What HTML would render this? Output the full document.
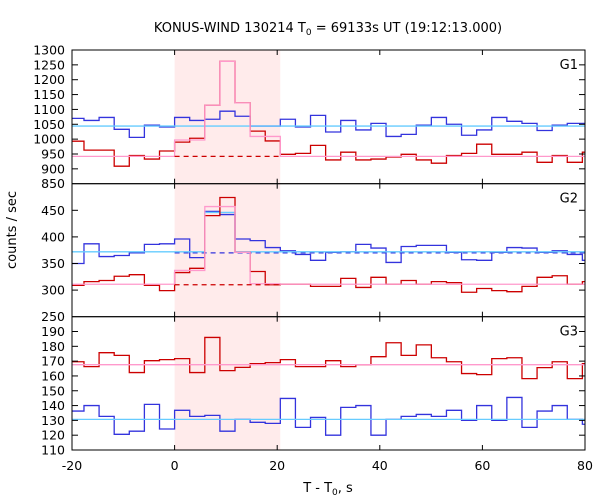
<!DOCTYPE html>
<html><head><meta charset="utf-8">
<style>
html,body{margin:0;padding:0;background:#fff;}
svg{display:block;font-family:"DejaVu Sans","Liberation Sans",sans-serif;}
</style></head>
<body>
<svg id="chart" width="600" height="500" viewBox="0 0 600 500" xmlns="http://www.w3.org/2000/svg">
<rect x="0" y="0" width="600" height="500" fill="#fff"/>
<text x="328" y="32" text-anchor="middle" font-size="13">KONUS-WIND 130214 T<tspan font-size="9" dy="3">0</tspan><tspan dy="-3"> = 69133s UT (19:12:13.000)</tspan></text>
<text x="328" y="492" text-anchor="middle" font-size="13">T - T<tspan font-size="9" dy="3">0</tspan><tspan dy="-3">, s</tspan></text>
<text transform="translate(16,230) rotate(-90)" text-anchor="middle" font-size="13">counts / sec</text>
<g id="layer"></g>
</svg>
<script>
const binWidth = 2.944;
const xTicks = [-20, 0, 20, 40, 60, 80];
const shadeStart = 0, shadeEnd = 20.6;

const g1Blue = [1070,1063,1073,1033,1006,1047,1041,1073,1063,1067,1094,1077,1044,1044,1067,1041,1080,1024,1063,1031,1053,1009,1016,1047,1073,1050,1013,1031,1073,1060,1053,1029,1047,1053,1053];
const g1Red = [993,963,963,909,945,933,960,990,1003,1114,1262,1122,1027,994,949,952,979,930,956,930,933,940,949,930,919,945,952,983,949,949,956,922,945,922,956];
const g1Pink = [942,942,942,942,942,942,942,997,997,1114,1262,1122,1009,1009,942,942,942,942,942,942,942,942,942,942,942,942,942,942,942,942,942,942,942,942,942];
const g1Cyan = 1044, g1RedBkg = 942;

const g2Blue = [350,387,363,365,370,386,387,396,361,448,442,396,393,380,374,367,356,371,372,386,379,352,382,384,384,371,357,356,371,380,379,371,374,367,356];
const g2Red = [309,316,318,326,329,309,299,333,341,440,474,371,335,310,311,311,307,307,322,305,324,311,318,311,316,314,296,303,299,297,307,324,327,311,316];
const g2Pink = [311,311,311,311,311,311,311,337,337,457,457,371,312,312,311,311,311,311,311,311,311,311,311,311,311,311,311,311,311,311,311,311,311,311,311];
const g2Cyan = [372,372,372,372,372,372,372,372,372,446,446,372,372,372,372,372,372,372,372,372,372,372,372,372,372,372,372,372,372,372,372,372,372,372,372];
const g2RedBkg = 310, g2BlueBkg = 370;

const g3Blue = [136.3,140,132.7,120.6,122.7,140.8,124.2,136.8,132.7,133.4,122.7,130.7,128.7,128,144.8,125.3,132,120,138.8,140,120,130.7,132.7,134,132.7,136.8,130,140,130,145.5,125.3,136.3,140,130.7,127.4];
const g3Red = [169.6,166.3,175.7,173.9,162.3,170.3,171,171.7,162.3,186,163.6,165.8,168.3,169,171,166.3,166.3,170.3,166.3,167.6,173,182.4,173.9,181,172.3,169.6,161.6,160.9,171.7,172.3,158.2,165.6,169.6,158.2,168.3];
const g3Pink = 167.6, g3Cyan = 130.7;

const g1Ticks = [1300,1250,1200,1150,1100,1050,1000,950,900,850];
const g2Ticks = [450,400,350,300,250];
const g3Ticks = [190,180,170,160,150,140,130,120,110];

const XL = 72, XR = 585;
function X(t){ return XL + (t + 20) / 100 * (XR - XL); }
const panels = [
  {name:'g1', top:50, bot:183.7, min:850, max:1300, label:'G1'},
  {name:'g2', top:183.7, bot:316.7, min:250, max:500, label:'G2'},
  {name:'g3', top:316.7, bot:450, min:110, max:200, label:'G3'}
];
function Yf(p){ return v => p.bot - (v - p.min) / (p.max - p.min) * (p.bot - p.top); }

const edges = [-20];
for (let k = -6; k <= 27; k++) edges.push(k * binWidth);
edges.push(80);

const NS = 'http://www.w3.org/2000/svg';
const layer = document.getElementById('layer');
function mk(tag, attrs, parent){
  const el = document.createElementNS(NS, tag);
  for (const k in attrs) el.setAttribute(k, attrs[k]);
  (parent || layer).appendChild(el);
  return el;
}
function full(v){ return Array.isArray(v) ? v : edges.slice(0, -1).map(() => v); }
function step(vals, Y, color, name, w){
  vals = full(vals);
  let d = '';
  for (let i = 0; i < vals.length; i++){
    const y = Y(vals[i]).toFixed(2);
    d += (i === 0 ? 'M' : 'L') + X(edges[i]).toFixed(2) + ',' + y + 'L' + X(edges[i+1]).toFixed(2) + ',' + y;
  }
  const el = mk('path', {d:d, fill:'none', stroke:color, 'stroke-width':w || 1.3});
  
  
}
function dashed(v, t0, t1, Y, color, name){
  const el = mk('line', {x1:X(t0), x2:X(t1), y1:Y(v), y2:Y(v), stroke:color, 'stroke-width':1.3, 'stroke-dasharray':'5,4'});
  
  
}

// shaded interval
const sh = mk('rect', {x:X(shadeStart), y:50, width:X(shadeEnd)-X(shadeStart), height:400, fill:'#ffebeb'});



const BLUE = '#3333dd', RED = '#cc0000', PINK = '#ff99cc', CYAN = '#66ccff';

const Y1 = Yf(panels[0]), Y2 = Yf(panels[1]), Y3 = Yf(panels[2]);
step(g1Blue, Y1, BLUE, 'g1-blue-series');
step(g1Cyan, Y1, CYAN, 'g1-cyan-model');
step(g1Red, Y1, RED, 'g1-red-series');
step(g1Pink, Y1, PINK, 'g1-pink-model');
dashed(g1RedBkg, 0, shadeEnd, Y1, RED, 'g1-red-background');

step(g2Blue, Y2, BLUE, 'g2-blue-series');
dashed(g2BlueBkg, 0, 80, Y2, BLUE, 'g2-blue-background');
step(g2Cyan, Y2, CYAN, 'g2-cyan-model');
step(g2Red, Y2, RED, 'g2-red-series');
step(g2Pink, Y2, PINK, 'g2-pink-model');
dashed(g2RedBkg, 0, shadeEnd, Y2, RED, 'g2-red-background');

step(g3Red, Y3, RED, 'g3-red-series');
step(g3Pink, Y3, PINK, 'g3-pink-model');
step(g3Blue, Y3, BLUE, 'g3-blue-series');
step(g3Cyan, Y3, CYAN, 'g3-cyan-model');

const tickSets = [g1Ticks, g2Ticks, g3Ticks];
panels.forEach((p, pi) => {
  const Y = Yf(p);
  const fr = mk('rect', {x:XL, y:p.top, width:XR-XL, height:p.bot-p.top, fill:'none', stroke:'#000', 'stroke-width':1});
  
  
  tickSets[pi].forEach(v => {
    const y = Y(v);
    if (v !== p.min && v !== p.max){
      const t1 = mk('line', {x1:XL, x2:XL+6, y1:y, y2:y, stroke:'#000'});
      
      
      const t2 = mk('line', {x1:XR-6, x2:XR, y1:y, y2:y, stroke:'#000'});
      
      
    }
    const tx = mk('text', {x:XL-7, y:y+4.5, 'text-anchor':'end', 'font-size':12.5});
    tx.textContent = v;
    
    
  });
  xTicks.forEach(t => {
    if (t === -20 || t === 80) return;
    const a = mk('line', {x1:X(t), x2:X(t), y1:p.top, y2:p.top+5, stroke:'#000'});
    
    
    const b = mk('line', {x1:X(t), x2:X(t), y1:p.bot-5, y2:p.bot, stroke:'#000'});
    
    
  });
  const lb = mk('text', {x:578, y:p.top+19, 'text-anchor':'end', 'font-size':13});
  lb.textContent = p.label;
  
  
});
xTicks.forEach(t => {
  const tx = mk('text', {x:X(t), y:470, 'text-anchor':'middle', 'font-size':12.5});
  tx.textContent = t;
  
  
});
</script>
</body></html>
